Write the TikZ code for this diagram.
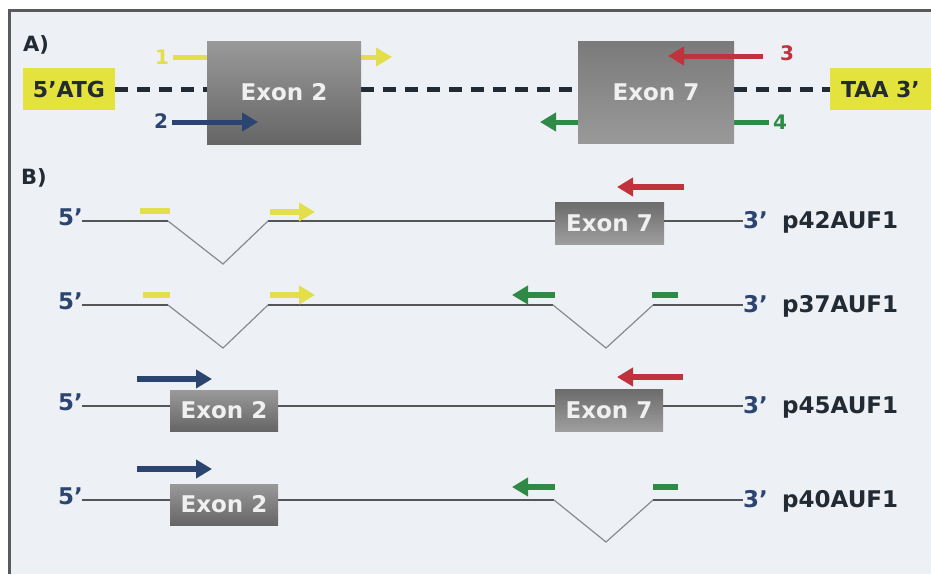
\documentclass[tikz,border=0pt]{standalone}
\usepackage{fontspec}
\setmainfont{DejaVu Sans}
\usetikzlibrary{arrows.meta}
\definecolor{bg}{HTML}{EDF1F5}
\definecolor{framec}{HTML}{5A5A5A}
\definecolor{navy}{HTML}{2B4570}
\definecolor{ylw}{HTML}{E2DE4C}
\definecolor{ybox}{HTML}{E4E33E}
\definecolor{redc}{HTML}{C0323C}
\definecolor{grn}{HTML}{2F8A48}
\definecolor{dark}{HTML}{222A33}
\definecolor{lineg}{HTML}{555555}
\definecolor{vg}{HTML}{8A8A8A}
\tikzset{
  bigex/.style={inner sep=0pt, text=white!94!black, font=\fontsize{23}{23}\selectfont\bfseries},
  smex/.style={inner sep=0pt, text=white!94!black, font=\fontsize{23}{23}\selectfont\bfseries, minimum width=108pt, minimum height=41pt},
  shadeA/.style={top color=black!40, bottom color=black!60},
  shadeB/.style={top color=black!58, bottom color=black!38},
  ybx/.style={fill=ybox, inner sep=0pt, text=dark, font=\fontsize{22}{22}\selectfont\bfseries, minimum height=42pt},
  lbl/.style={inner sep=0pt, font=\fontsize{23}{23}\selectfont\bfseries},
  num/.style={inner sep=0pt, font=\fontsize{20}{20}\selectfont\bfseries},
  parrow/.style={line width=6pt, -{Triangle[length=16pt,width=18pt]}},
  pdash/.style={line width=6pt},
  dashln/.style={line width=5pt, dark, dash pattern=on 13pt off 9pt},
  mrna/.style={line width=1.6pt, lineg},
  vline/.style={line width=1.2pt, vg},
}
\begin{document}
\begin{tikzpicture}[x=1pt,y=-1pt]
\useasboundingbox (0,0) rectangle (931,574);
\fill[white] (0,0) rectangle (931,574);
\fill[bg] (9,10) rectangle (931,574);
\draw[framec, line width=3pt] (9,574) -- (9,10) -- (931,10);

% ---------- A ----------
\node[lbl, font=\fontsize{21}{21}\selectfont\bfseries, text=dark] (labA) at (36,45) {A)};
\node[ybx, minimum width=92pt] (atg) at (69,89) {5’ATG};
\node[ybx, minimum width=101pt] (taa) at (880.5,89) {TAA 3’};
\coordinate (ex2Aw) at (207,89);
\coordinate (ex2Ae) at (361,89);
\coordinate (ex7Aw) at (578,89);
\coordinate (ex7Ae) at (734,89);
\draw[dashln] (atg.east) -- (ex2Aw);
\draw[dashln] (ex2Ae) -- (ex7Aw);
\draw[dashln] (ex7Ae) -- (taa.west);

% primer 1 (behind box) and primer 4 (behind box)
\node[num, text=ylw] (n1) at (162,57) {1};
\coordinate (p1e) at (392,57);
\draw[parrow, ylw, line width=5pt] (n1.east) ++(4,0) -- (p1e);
\node[num, text=grn] (n4) at (780,122) {4};
\coordinate (p4e) at (540,122);
\draw[parrow, grn, line width=5pt] (n4.west) ++(-4,0) -- (p4e);

\node[bigex, shadeA, minimum width=154pt, minimum height=103pt] (ex2A) at (284,92.5) {Exon 2};
\node[bigex, top color=black!52, bottom color=black!40, minimum width=156pt, minimum height=102pt] (ex7A) at (656,92) {Exon 7};

% primer 2 and 3 (over boxes)
\node[num, text=navy] (n2) at (161,121) {2};
\coordinate (p2e) at (258,122);
\draw[parrow, navy, line width=5pt] (n2.east) ++(4,1) -- (p2e);
\node[num, text=redc] (n3) at (787,53) {3};
\coordinate (p3e) at (668,56);
\draw[parrow, redc, line width=5pt] (n3.west) ++(-17,3) -- (p3e);

% ---------- B ----------
\node[lbl, font=\fontsize{21}{21}\selectfont\bfseries, text=dark] (labB) at (34,178) {B)};

% row 1: p42AUF1
\coordinate (r1a) at (82,221);
\coordinate (r1b) at (168,221);
\coordinate (r1c) at (223,264);
\coordinate (r1d) at (268,221);
\coordinate (r1z) at (743,221);
\node[lbl, text=navy, anchor=base east] (r1l) at (83,225) {5’};
\node[lbl, text=navy, anchor=base west] (r1r) at (743,228) {3’};
\node[lbl, text=dark, anchor=base west] (r1n) at (782,228) {p42AUF1};
\node[smex, shadeB, minimum width=109pt, minimum height=42pt] (e71) at (609.5,223) {Exon 7};
\draw[mrna] (r1a) -- (r1b);
\draw[vline] (r1b) -- (r1c) -- (r1d);
\draw[mrna] (r1d) -- (e71.west |- r1d);
\draw[mrna] (e71.east |- r1z) -- (r1z);
\coordinate (y1a) at (140,211); \coordinate (y1b) at (170,211);
\draw[pdash, ylw] (y1a) -- (y1b);
\coordinate (y1c) at (270,212); \coordinate (y1d) at (315,212);
\draw[parrow, ylw] (y1c) -- (y1d);
\coordinate (rd1a) at (684,187); \coordinate (rd1b) at (617,187);
\draw[parrow, redc] (rd1a) -- (rd1b);

% row 2: p37AUF1
\coordinate (r2a) at (82,305);
\coordinate (r2b) at (168,305);
\coordinate (r2c) at (223,348);
\coordinate (r2d) at (268,305);
\coordinate (r2e) at (553,305);
\coordinate (r2f) at (606,348);
\coordinate (r2g) at (653,305);
\coordinate (r2z) at (743,305);
\node[lbl, text=navy, anchor=base east] (r2l) at (83,309) {5’};
\node[lbl, text=navy, anchor=base west] (r2r) at (743,312) {3’};
\node[lbl, text=dark, anchor=base west] (r2n) at (782,312) {p37AUF1};
\draw[mrna] (r2a) -- (r2b);
\draw[vline] (r2b) -- (r2c) -- (r2d);
\draw[mrna] (r2d) -- (r2e);
\draw[vline] (r2e) -- (r2f) -- (r2g);
\draw[mrna] (r2g) -- (r2z);
\coordinate (y2a) at (143,295); \coordinate (y2b) at (170,295);
\draw[pdash, ylw] (y2a) -- (y2b);
\coordinate (y2c) at (270,295); \coordinate (y2d) at (315,295);
\draw[parrow, ylw] (y2c) -- (y2d);
\coordinate (g2a) at (555,295); \coordinate (g2b) at (512,295);
\draw[parrow, grn] (g2a) -- (g2b);
\coordinate (g2c) at (652,295); \coordinate (g2d) at (678,295);
\draw[pdash, grn] (g2c) -- (g2d);

% row 3: p45AUF1
\coordinate (r3a) at (82,406);
\coordinate (r3z) at (743,406);
\node[lbl, text=navy, anchor=base east] (r3l) at (83,410) {5’};
\node[lbl, text=navy, anchor=base west] (r3r) at (743,413) {3’};
\node[lbl, text=dark, anchor=base west] (r3n) at (782,413) {p45AUF1};
\node[smex, shadeA] (e23) at (224,410.5) {Exon 2};
\node[smex, shadeB, minimum width=108pt, minimum height=42pt] (e73) at (609,410) {Exon 7};
\draw[mrna] (r3a) -- (e23.west |- r3a);
\draw[mrna] (e23.east |- r3a) -- (e73.west |- r3a);
\draw[mrna] (e73.east |- r3z) -- (r3z);
\coordinate (b3a) at (137,379); \coordinate (b3b) at (212,379);
\draw[parrow, navy] (b3a) -- (b3b);
\coordinate (rd3a) at (683,377); \coordinate (rd3b) at (617,377);
\draw[parrow, redc] (rd3a) -- (rd3b);

% row 4: p40AUF1
\coordinate (r4a) at (82,500);
\coordinate (r4e) at (554,500);
\coordinate (r4f) at (606,542);
\coordinate (r4g) at (653,500);
\coordinate (r4z) at (743,500);
\node[lbl, text=navy, anchor=base east] (r4l) at (83,504) {5’};
\node[lbl, text=navy, anchor=base west] (r4r) at (743,507) {3’};
\node[lbl, text=dark, anchor=base west] (r4n) at (782,507) {p40AUF1};
\node[smex, shadeA] (e24) at (224,504.5) {Exon 2};
\draw[mrna] (r4a) -- (e24.west |- r4a);
\draw[mrna] (e24.east |- r4a) -- (r4e);
\draw[vline] (r4e) -- (r4f) -- (r4g);
\draw[mrna] (r4g) -- (r4z);
\coordinate (b4a) at (137,469); \coordinate (b4b) at (212,469);
\draw[parrow, navy] (b4a) -- (b4b);
\coordinate (g4a) at (555,487); \coordinate (g4b) at (512,487);
\draw[parrow, grn] (g4a) -- (g4b);
\coordinate (g4c) at (653,487); \coordinate (g4d) at (678,487);
\draw[pdash, grn] (g4c) -- (g4d);
\end{tikzpicture}
\end{document}
